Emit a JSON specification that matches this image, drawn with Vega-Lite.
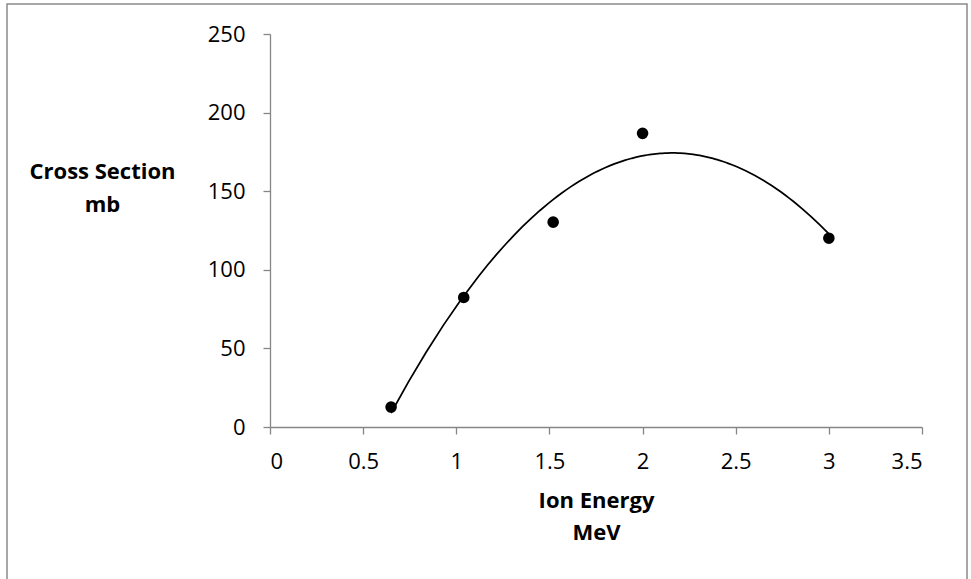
{
  "$schema": "https://vega.github.io/schema/vega-lite/v6.json",
  "autosize": "none",
  "width": 652,
  "height": 393,
  "padding": {"left": 270, "top": 34, "right": 49, "bottom": 152},
  "background": "white",
  "config": {
    "view": {"stroke": null},
    "font": "Open Sans",
    "axis": {
      "grid": false,
      "domainColor": "#868686",
      "domainWidth": 1.3,
      "tickColor": "#868686",
      "tickWidth": 1.3,
      "tickSize": 7,
      "labelFont": "Open Sans",
      "labelFontSize": 22,
      "labelColor": "#000000",
      "titleFont": "Open Sans",
      "titleFontSize": 22,
      "titleFontWeight": "bold",
      "titleColor": "#000000"
    }
  },
  "data": {
    "values": [
      {"energy": 0.65, "cross": 12.7},
      {"energy": 1.04, "cross": 82.4},
      {"energy": 1.52, "cross": 130.3},
      {"energy": 2.0, "cross": 186.8},
      {"energy": 3.0, "cross": 120.1}
    ]
  },
  "layer": [
    {
      "data": {"values": [{}]},
      "mark": {"type": "rect", "fill": null, "stroke": "#8a8a8a", "strokeWidth": 1.5},
      "encoding": {
        "x": {"datum": -1.4118, "type": "quantitative", "scale": {"domain": [0, 3.5], "nice": false, "zero": false}},
        "x2": {"datum": 3.7416},
        "y": {"datum": 269.1, "type": "quantitative", "scale": {"domain": [0, 250], "nice": false}},
        "y2": {"datum": -200}
      }
    },
    {
      "transform": [
        {"regression": "cross", "on": "energy", "method": "poly", "order": 2}
      ],
      "mark": {"type": "line", "color": "#000000", "strokeWidth": 1.75},
      "encoding": {
        "x": {"field": "energy", "type": "quantitative"},
        "y": {"field": "cross", "type": "quantitative"}
      }
    },
    {
      "mark": {"type": "circle", "color": "#000000", "opacity": 1, "size": 135},
      "encoding": {
        "x": {
          "field": "energy",
          "type": "quantitative",
          "scale": {"domain": [0, 3.5], "nice": false, "zero": false},
          "axis": {
            "values": [0, 0.5, 1, 1.5, 2, 2.5, 3, 3.5],
            "format": "~f",
            "labelPadding": 17,
            "title": ["Ion Energy", "MeV"],
            "titleBaseline": "alphabetic",
            "titleLineHeight": 32,
            "titleY": 80
          }
        },
        "y": {
          "field": "cross",
          "type": "quantitative",
          "scale": {"domain": [0, 250], "nice": false},
          "axis": {
            "values": [0, 50, 100, 150, 200, 250],
            "format": "d",
            "labelPadding": 18,
            "title": ["Cross Section", "mb"],
            "titleAngle": 0,
            "titleAlign": "center",
            "titleBaseline": "alphabetic",
            "titleLineHeight": 33,
            "titleX": -168,
            "titleY": 144
          }
        }
      }
    }
  ]
}
